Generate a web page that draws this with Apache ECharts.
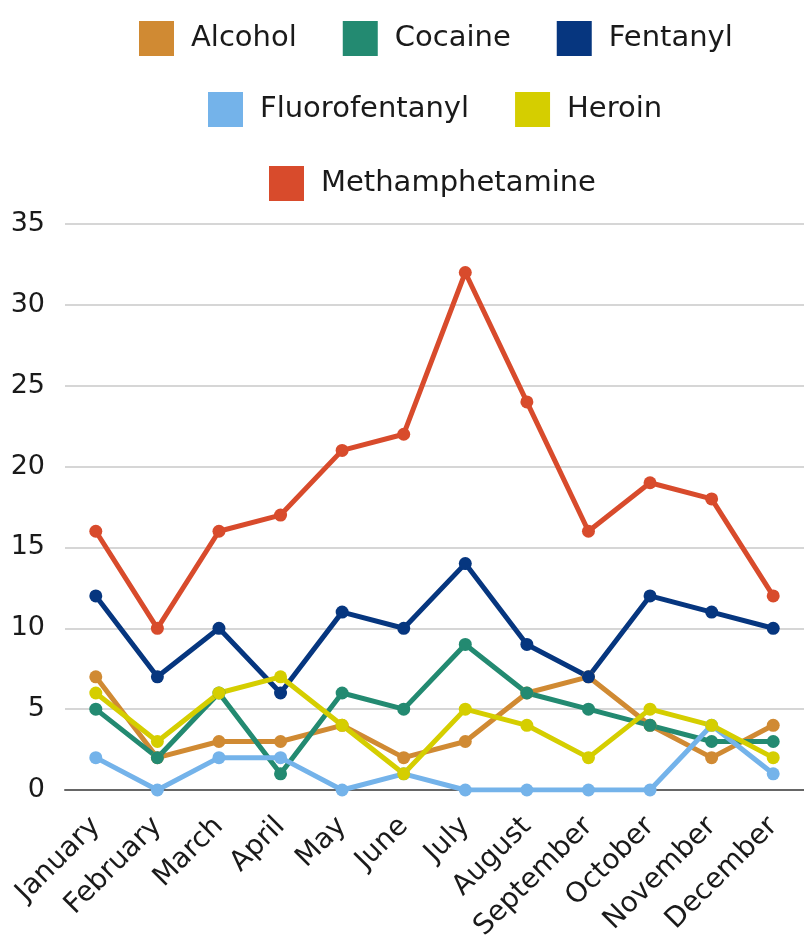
<!DOCTYPE html>
<html>
<head>
<meta charset="utf-8">
<script src="https://cdn.jsdelivr.net/npm/echarts@6/dist/echarts.min.js"></script>
<style>
  html, body { margin: 0; padding: 0; background: #fff; }
  #chart { width: 804px; height: 941px; }
</style>
</head>
<body>
<div id="chart"></div>
<script>
// data
const months = ['January', 'February', 'March', 'April', 'May', 'June', 'July', 'August', 'September', 'October', 'November', 'December']
const alcohol = [7, 2, 3, 3, 4, 2, 3, 6, 7, 4, 2, 4]
const cocaine = [5, 2, 6, 1, 6, 5, 9, 6, 5, 4, 3, 3]
const fentanyl = [12, 7, 10, 6, 11, 10, 14, 9, 7, 12, 11, 10]
const fluorofentanyl = [2, 0, 2, 2, 0, 1, 0, 0, 0, 0, 4, 1]
const heroin = [6, 3, 6, 7, 4, 1, 5, 4, 2, 5, 4, 2]
const methamphetamine = [16, 10, 16, 17, 21, 22, 32, 24, 16, 19, 18, 12]

const seriesNames = ['Alcohol', 'Cocaine', 'Fentanyl', 'Fluorofentanyl', 'Heroin', 'Methamphetamine']
const seriesData = [alcohol, cocaine, fentanyl, fluorofentanyl, heroin, methamphetamine]
const colorList = ['#D08A33', '#238A71', '#06367F', '#74B3EA', '#D5CE00', '#D84B2C']

const fontFamily = 'DejaVu Sans'

const myChart = echarts.init(document.getElementById('chart'))

// one legend per row so the rows break like the original
// (the original legend sits a bit right of centre)
function legendRow(names, top, left) {
  return {
    data: names,
    top: top,
    left: left,
    icon: 'rect',
    itemWidth: 35,
    itemHeight: 35,
    itemGap: 46,
    textStyle: {
      fontFamily: fontFamily,
      fontSize: 29,
      color: '#1a1a1a',
      padding: [0, 0, 0, 12]
    }
  }
}

const option = {
  color: colorList,
  animation: false,
  legend: [
    legendRow(['Alcohol', 'Cocaine', 'Fentanyl'], 16, 134),
    legendRow(['Fluorofentanyl', 'Heroin'], 87, 203),
    legendRow(['Methamphetamine'], 161, 264)
  ],
  grid: {
    left: 65,
    right: 0,
    top: 224,
    bottom: 151,
    containLabel: false,
    outerBoundsMode: 'none'
  },
  xAxis: {
    type: 'category',
    data: months,
    boundaryGap: true,
    axisTick: { show: false },
    axisLine: { lineStyle: { color: '#666', width: 2 } },
    axisLabel: {
      rotate: 45,
      interval: 0,
      margin: 32,
      fontFamily: fontFamily,
      fontSize: 28,
      color: '#1a1a1a'
    }
  },
  yAxis: {
    type: 'value',
    min: 0,
    max: 35,
    interval: 5,
    axisLine: { show: false },
    axisTick: { show: false },
    splitLine: { lineStyle: { color: '#c8c8c8', width: 1.5 } },
    axisLabel: {
      margin: 20,
      fontFamily: fontFamily,
      fontSize: 27,
      color: '#1a1a1a'
    }
  },
  series: seriesNames.map(function(name, i) {
    return {
      name: name,
      type: 'line',
      data: seriesData[i],
      symbol: 'circle',
      symbolSize: 13,
      lineStyle: { width: 5 },
      itemStyle: { color: colorList[i] }
    }
  })
}

myChart.setOption(option)
</script>
</body>
</html>
